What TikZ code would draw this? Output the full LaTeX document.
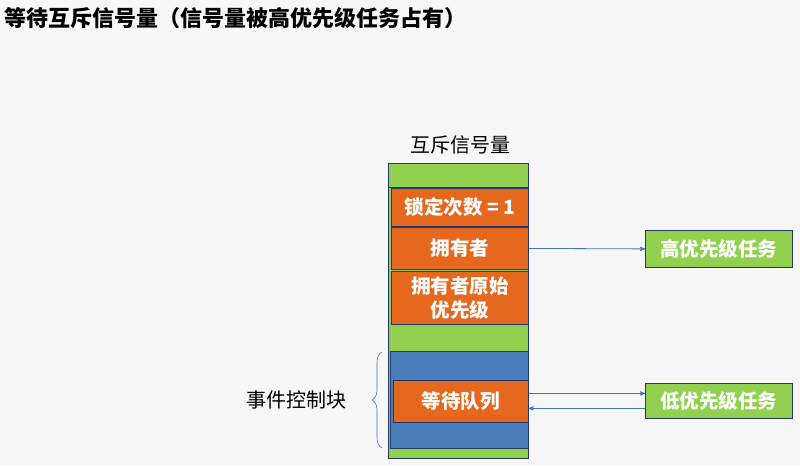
\documentclass[tikz,border=0pt]{standalone}
\usepackage{fontspec}
\setmainfont{Noto Sans CJK SC}
\usetikzlibrary{arrows,decorations.pathreplacing}
\definecolor{cellgreen}{RGB}{146,208,80}
\definecolor{cellorange}{RGB}{230,104,30}
\definecolor{cellblue}{RGB}{74,126,187}
\definecolor{rimblue}{RGB}{31,56,100}
\definecolor{linkblue}{RGB}{68,114,196}

\begin{document}
\begin{tikzpicture}[x=1pt,y=-1pt,>=stealth',
    font=\fontsize{20}{23}\selectfont]
  \tikzstyle{cell}=[draw=rimblue,line width=0.8pt,inner sep=0pt,anchor=north west]
  \tikzstyle{lab}=[cell,fill=cellorange,text=white,align=center,font=\fontsize{19.5}{24}\selectfont\bfseries]
  \tikzstyle{task}=[cell,fill=cellgreen,text=white,draw=rimblue,font=\fontsize{19.5}{22}\selectfont\bfseries]
  \tikzstyle{link}=[->,draw=linkblue,thick]

  \fill[gray!6] (0,0) rectangle (800,466);
  \useasboundingbox (0,0) rectangle (800,466);

  \node[anchor=west,font=\fontsize{22}{25}\selectfont\bfseries] (title) at (1,18)
    {等待互斥信号量（信号量被高优先级任务占有）};
  \node (head) at (460,145) {互斥信号量};

  \node[cell,fill=cellgreen,minimum width=140pt,minimum height=295pt] (sem) at (388,163) {};
  \node[cell,fill=cellgreen,minimum width=140pt,minimum height=24pt] (g1) at (388,163) {};
  \node[lab,minimum width=137pt,minimum height=38pt] (count) at (391,188) {锁定次数 = 1};
  \node[lab,minimum width=137pt,minimum height=42pt] (owner) at (391,227) {拥有者};
  \node[lab,minimum width=137pt,minimum height=53pt] (prio) at (391,271) {拥有者原始\\优先级};
  \node[cell,fill=cellblue,minimum width=138pt,minimum height=97pt] (ecb) at (390,351) {};
  \node[lab,minimum width=135pt,minimum height=42pt] (queue) at (393,380) {等待队列};

  \node[task,minimum width=147pt,minimum height=37pt] (high) at (645,230) {高优先级任务};
  \node[task,minimum width=147pt,minimum height=35pt] (low) at (645,383) {低优先级任务};

  \draw[link] (owner.east) -- (high.west);
  \draw[link] ([yshift=8pt]queue.east) -- ([yshift=7.5pt]low.west);
  \draw[link] ([yshift=-7.5pt]low.west) -- ([yshift=-7pt]queue.east);

  \draw[linkblue,semithick,decorate,decoration={brace,amplitude=10pt}]
    (382,448) -- (382,352) coordinate[midway] (tip);
  \node[anchor=east] (ecblab) at (350,400) {事件控制块};
\end{tikzpicture}
\end{document}
